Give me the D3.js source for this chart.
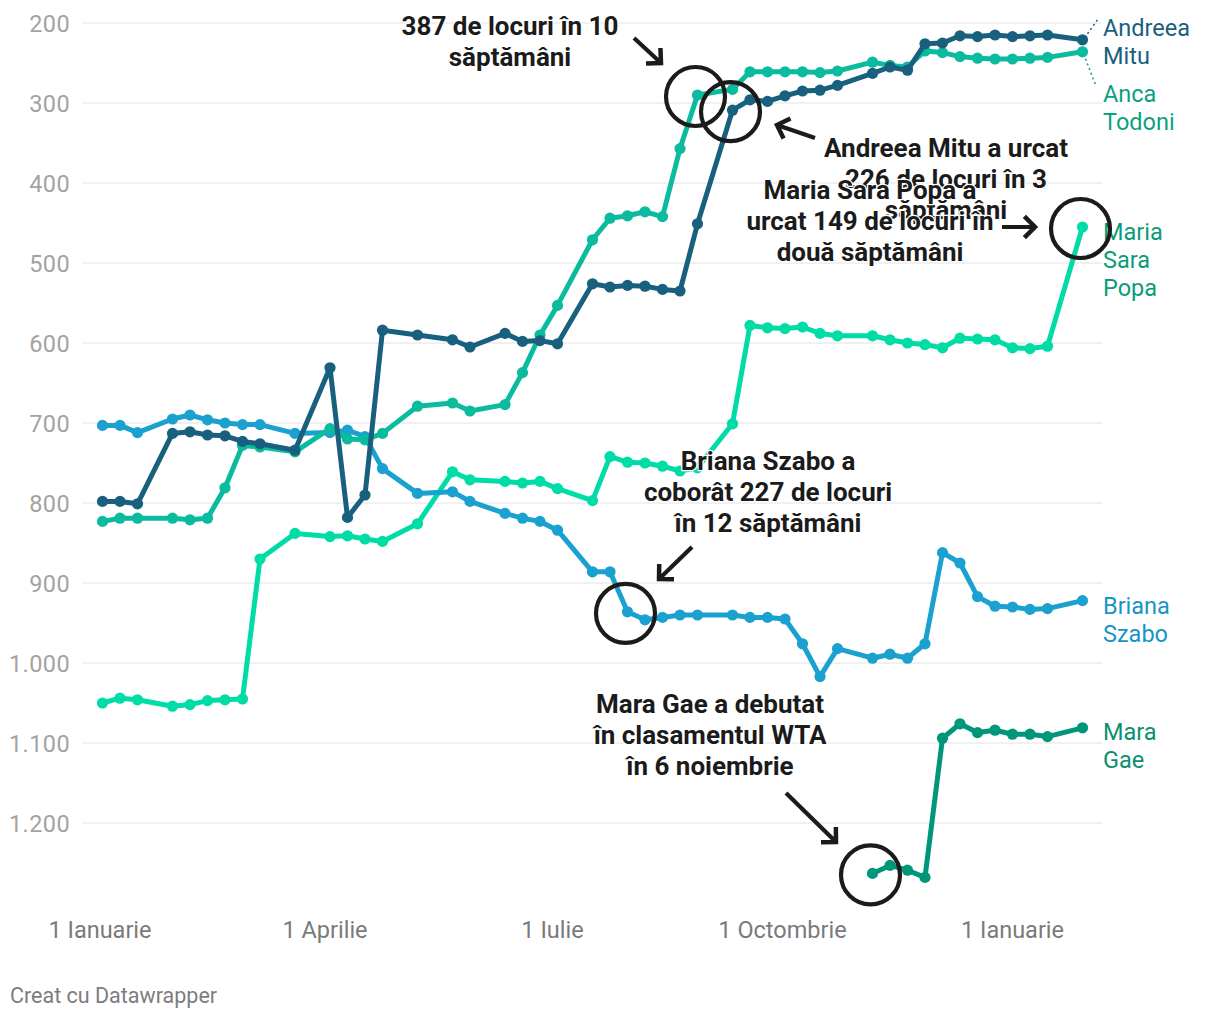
<!DOCTYPE html>
<html><head><meta charset="utf-8">
<script src="https://cdn.jsdelivr.net/npm/d3@7"></script>
<style>body{margin:0;background:#fff;} svg{display:block;font-family:Roboto,"Noto Sans",sans-serif;}</style>
</head><body><svg id="chart" width="1220" height="1020"></svg>
<script>
// ---- DATA ----
const dates = ["2023-01-02","2023-01-09","2023-01-16","2023-01-30","2023-02-06","2023-02-13","2023-02-20","2023-02-27","2023-03-06","2023-03-20",
"2023-04-03","2023-04-10","2023-04-17","2023-04-24","2023-05-08","2023-05-22","2023-05-29","2023-06-12","2023-06-19","2023-06-26",
"2023-07-03","2023-07-17","2023-07-24","2023-07-31","2023-08-07","2023-08-14","2023-08-21","2023-08-28","2023-09-11","2023-09-18",
"2023-09-25","2023-10-02","2023-10-09","2023-10-16","2023-10-23","2023-11-06","2023-11-13","2023-11-20","2023-11-27","2023-12-04",
"2023-12-11","2023-12-18","2023-12-25","2024-01-01","2024-01-08","2024-01-15","2024-01-29"];

const andreeaMitu = [798,798,801,713,711,715,716,723,726,734,
631,818,790,584,590,596,605,588,598,597,
601,526,530,528,529,533,535,451,309,296,
298,291,285,284,278,263,255,259,226,225,
216,217,215,217,216,215,221];

const ancaTodoni = [823,819,819,819,821,819,781,728,730,736,
707,720,721,713,679,675,685,677,637,590,
553,471,444,441,436,442,357,290,283,261,
261,261,261,262,260,249,253,255,235,237,
242,244,245,245,244,243,236];

const mariaSaraPopa = [1050,1044,1046,1054,1052,1047,1046,1045,870,838,
842,841,845,848,826,761,771,773,775,773,
782,797,742,749,750,754,760,756,701,578,
581,582,580,588,591,591,596,600,602,606,
594,595,596,606,607,604,455];

const brianaSzabo = [703,703,712,695,690,696,700,702,702,713,
712,709,717,757,788,786,798,813,819,823,
834,886,886,936,946,943,940,940,940,943,
943,945,976,1017,982,994,989,994,976,862,
875,917,929,930,933,932,922];

const maraGae = [null,null,null,null,null,null,null,null,null,null,
null,null,null,null,null,null,null,null,null,null,
null,null,null,null,null,null,null,null,null,null,
null,null,null,null,null,1263,1253,1259,1268,1094,
1076,1087,1084,1089,1089,1092,1081];

const seriesNames = ["Maria Sara Popa","Mara Gae","Briana Szabo","Anca Todoni","Andreea Mitu"];
const seriesValues = [mariaSaraPopa, maraGae, brianaSzabo, ancaTodoni, andreeaMitu];
const seriesLabelLines = [["Maria","Sara","Popa"],["Mara","Gae"],["Briana","Szabo"],["Anca","Todoni"],["Andreea","Mitu"]];

const yTicks = [200,300,400,500,600,700,800,900,1000,1100,1200];
const xTickDates = ["2023-01-01","2023-04-01","2023-07-01","2023-10-01","2024-01-01"];
const xTickLabels = ["1 Ianuarie","1 Aprilie","1 Iulie","1 Octombrie","1 Ianuarie"];

// ---- STYLE / LAYOUT ----
const lineColors = {"Maria Sara Popa":"#00dca6","Mara Gae":"#00967a","Briana Szabo":"#1aa1cf","Anca Todoni":"#0bbb9d","Andreea Mitu":"#18607e"};
const labelColors = {"Maria Sara Popa":"#0a9c78","Mara Gae":"#0a8f71","Briana Szabo":"#1795c5","Anca Todoni":"#0c9f83","Andreea Mitu":"#18607e"};
const labelFirstBaseline = {"Maria Sara Popa":240,"Mara Gae":740,"Briana Szabo":614,"Anca Todoni":102,"Andreea Mitu":36};

const parse = d3.utcParse("%Y-%m-%d");
const svg = d3.select("#chart");
const x = d3.scaleUtc().domain([parse("2023-01-01"), parse("2024-01-01")]).range([100, 1012.5]);
const y = d3.scaleLinear().domain([200, 1300]).range([23, 903]);
const loc = d3.formatLocale({decimal:",", thousands:".", grouping:[3], currency:["",""]});
const fmt = loc.format(",d");

// grid + y labels
const grid = svg.append("g");
grid.selectAll("line").data(yTicks).join("line")
  .attr("x1", 83).attr("x2", 1102).attr("y1", d => y(d)).attr("y2", d => y(d))
  .attr("stroke", "#e2e2e2").attr("stroke-width", 1);
grid.selectAll("text").data(yTicks).join("text")
  .attr("x", 70).attr("y", d => y(d) + 8.5).attr("text-anchor", "end")
  .attr("fill", "#a3a3a3").attr("font-size", 23.5).attr("letter-spacing", 0.4)
  .text(d => fmt(d));

// x labels
svg.append("g").selectAll("text").data(xTickDates).join("text")
  .attr("x", d => x(parse(d))).attr("y", 938).attr("text-anchor", "middle")
  .attr("fill", "#7a7a7a").attr("font-size", 23.5)
  .text((d, i) => xTickLabels[i]);

// lines + dots
const line = d3.line().x(d => x(d.date)).y(d => y(d.v));
seriesNames.forEach((name, si) => {
  const pts = dates.map((d, i) => ({date: parse(d), v: seriesValues[si][i]})).filter(p => p.v != null);
  const g = svg.append("g");
  g.append("path").datum(pts).attr("d", line).attr("fill", "none")
    .attr("stroke", lineColors[name]).attr("stroke-width", 5).attr("stroke-linejoin", "round").attr("stroke-linecap", "round");
  g.selectAll("circle").data(pts).join("circle")
    .attr("cx", d => x(d.date)).attr("cy", d => y(d.v)).attr("r", 5.6).attr("fill", lineColors[name]);
  // labels
  const t = svg.append("text").attr("x", 1103).attr("y", labelFirstBaseline[name])
    .attr("fill", labelColors[name]).attr("font-size", 23.5);
  seriesLabelLines[si].forEach((ln, li) => {
    t.append("tspan").attr("x", 1103).attr("dy", li === 0 ? 0 : 28).text(ln);
  });
});

// connectors for moved labels
const lastDate = parse(dates[dates.length - 1]);
svg.append("line").attr("x1", x(lastDate) + 5).attr("y1", y(andreeaMitu[andreeaMitu.length-1]) - 6)
  .attr("x2", 1098).attr("y2", 19).attr("stroke", lineColors["Andreea Mitu"]).attr("stroke-width", 1.5).attr("stroke-dasharray", "2,3");
svg.append("line").attr("x1", x(lastDate) + 3).attr("y1", y(ancaTodoni[ancaTodoni.length-1]) + 7)
  .attr("x2", 1096).attr("y2", 86).attr("stroke", labelColors["Anca Todoni"]).attr("stroke-width", 1.5).attr("stroke-dasharray", "2,3");

// ---- ANNOTATIONS ----
const ink = "#1b1b1b";
const circles = [
  {date: "2023-08-28", v: ancaTodoni[dates.indexOf("2023-08-28")]},
  {date: "2023-09-11", v: andreeaMitu[dates.indexOf("2023-09-11")]},
  {date: "2024-01-29", v: mariaSaraPopa[dates.indexOf("2024-01-29")]},
  {date: "2023-07-31", v: brianaSzabo[dates.indexOf("2023-07-31")]},
  {date: "2023-11-06", v: maraGae[dates.indexOf("2023-11-06")]}
];
const annG = svg.append("g");
annG.selectAll("circle").data(circles).join("circle")
  .attr("cx", d => x(parse(d.date)) - 2).attr("cy", d => y(d.v) + 1.5).attr("r", 29.5)
  .attr("fill", "none").attr("stroke", ink).attr("stroke-width", 4.2);

const annotations = [
  {lines: ["387 de locuri în 10", "săptămâni"], x: 510, y: 35, arrow: [634, 38, 661, 63]},
  {lines: ["Andreea Mitu a urcat", "226 de locuri în 3", "săptămâni"], x: 946, y: 157, arrow: [815, 138, 777, 125]},
  {lines: ["Maria Sara Popa a", "urcat 149 de locuri în", "două săptămâni"], x: 870, y: 199, arrow: [1002, 227, 1035, 227]},
  {lines: ["Briana Szabo a", "coborât 227 de locuri", "în 12 săptămâni"], x: 768, y: 470, arrow: [692, 547, 659, 579]},
  {lines: ["Mara Gae a debutat", "în clasamentul WTA", "în 6 noiembrie"], x: 710, y: 713, arrow: [786, 793, 836, 842]}
];
annotations.forEach(a => {
  const t = annG.append("text").attr("x", a.x).attr("y", a.y).attr("text-anchor", "middle")
    .attr("font-size", 26).attr("font-weight", 700).attr("fill", ink)
    .attr("stroke", "#fff").attr("stroke-width", 2.5).attr("paint-order", "stroke").attr("stroke-linejoin", "round");
  a.lines.forEach((ln, i) => t.append("tspan").attr("x", a.x).attr("dy", i === 0 ? 0 : 30.8).text(ln));
  const [x1, y1, x2, y2] = a.arrow;
  annG.append("line").attr("x1", x1).attr("y1", y1).attr("x2", x2).attr("y2", y2)
    .attr("stroke", ink).attr("stroke-width", 4.2);
  const ang = Math.atan2(y2 - y1, x2 - x1), L = 15, spread = Math.PI / 4;
  const p1 = [x2 - L * Math.cos(ang - spread), y2 - L * Math.sin(ang - spread)];
  const p2 = [x2 - L * Math.cos(ang + spread), y2 - L * Math.sin(ang + spread)];
  annG.append("path").attr("d", `M${p1[0]},${p1[1]}L${x2},${y2}L${p2[0]},${p2[1]}`)
    .attr("fill", "none").attr("stroke", ink).attr("stroke-width", 4.5).attr("stroke-linejoin", "miter");
});

// footer
svg.append("text").attr("x", 10).attr("y", 1003).attr("fill", "#7d7d7d").attr("font-size", 21.5).text("Creat cu Datawrapper");
</script></body></html>
